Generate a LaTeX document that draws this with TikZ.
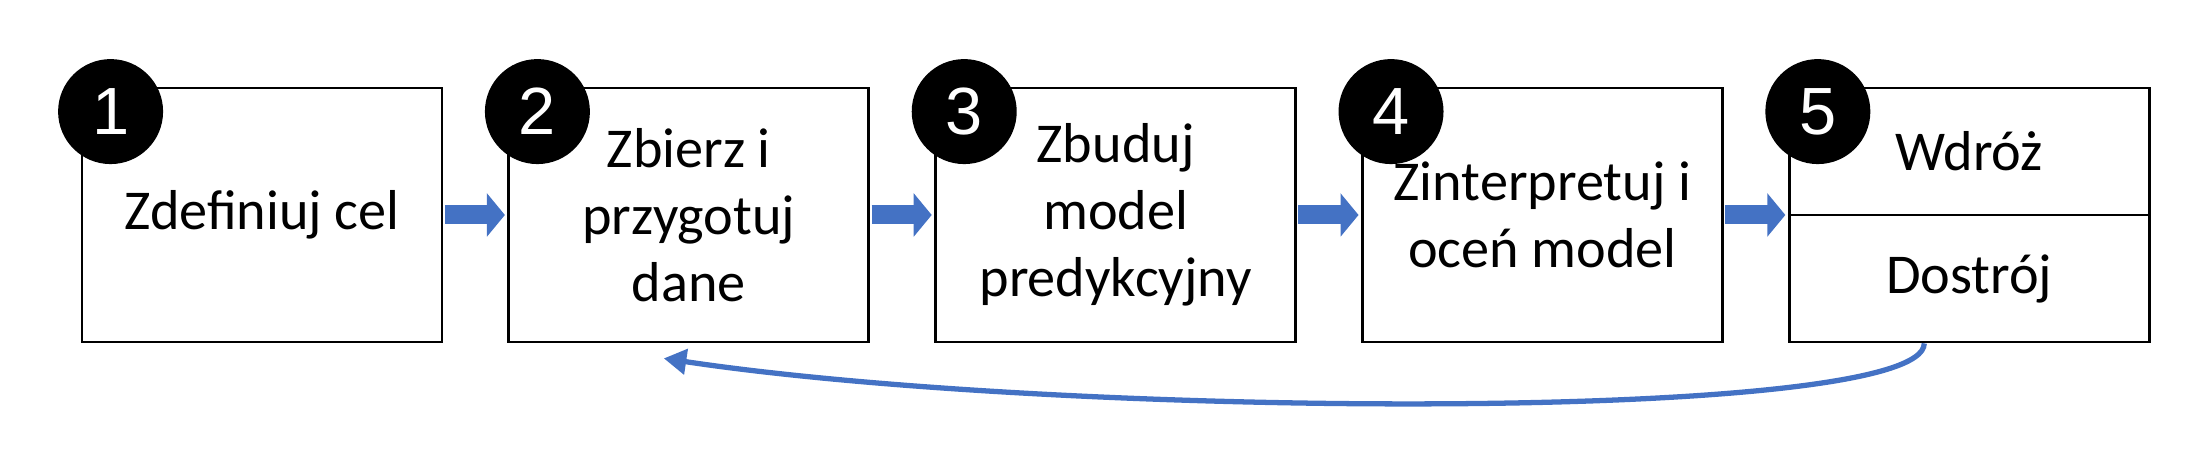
\documentclass[tikz,border=0pt]{standalone}
\usepackage{fontspec}
\setmainfont{Carlito}
\newfontfamily\numfont{Liberation Sans}
\usetikzlibrary{positioning,calc,arrows.meta}
\definecolor{arrowblue}{HTML}{4472C4}
\begin{document}
\begin{tikzpicture}[x=1cm,y=1cm]
	\tikzstyle{stage}=[rectangle,draw=black,line width=1.6pt,minimum width=7.2cm,minimum height=5.08cm,align=center,font=\fontsize{32}{38}\selectfont,inner sep=0pt]
	\tikzstyle{num}=[circle,fill=black,minimum size=2.1cm,inner sep=0pt,text=white,font=\numfont\fontsize{38}{38}\selectfont]
	\tikzstyle{flow}=[draw=arrowblue,line width=0.38cm,-{Triangle[length=0.36cm,width=0.85cm]},shorten >=0.05cm]
	\useasboundingbox (0,0) rectangle (43.72,9.28);
	\node [stage] (s1) at (5.24,4.98) {Zdefiniuj cel};
	\node [stage,right=1.28cm of s1] (s2) {Zbierz i\\przygotuj\\dane};
	\node [stage,right=1.28cm of s2] (s3) {Zbuduj\\model\\predykcyjny};
	\node [stage,right=1.28cm of s3] (s4) {Zinterpretuj i\\oceń model};
	\node [stage,right=1.28cm of s4] (s5) {};
	\draw [line width=1.6pt] (s5.west) -- (s5.east);
	\node [font=\fontsize{32}{38}\selectfont] (w) at ($(s5.north)!0.5!(s5.center)$) {Wdróż};
	\node [font=\fontsize{32}{38}\selectfont] (d) at ($(s5.south)!0.5!(s5.center)$) {Dostrój};
	\foreach \i in {1,...,5}
		\node [num] (n\i) at ([xshift=0.6cm,yshift=-0.5cm]s\i.north west) {\i};
	\foreach \a/\b in {s1/s2,s2/s3,s3/s4,s4/s5}
		\draw [flow] ([xshift=0.8pt]\a.east) -- (\b.west);
	\coordinate (back) at ([xshift=-0.9cm]s5.south);
	\coordinate (tip) at ([xshift=-0.5cm,yshift=-0.3cm]s2.south);
	\draw [arrowblue,line width=3pt,-{Triangle[length=0.45cm,width=0.5cm]}] (back) .. controls +(0,-1.6) and +(8,-1.2) .. (tip);
\end{tikzpicture}
\end{document}
